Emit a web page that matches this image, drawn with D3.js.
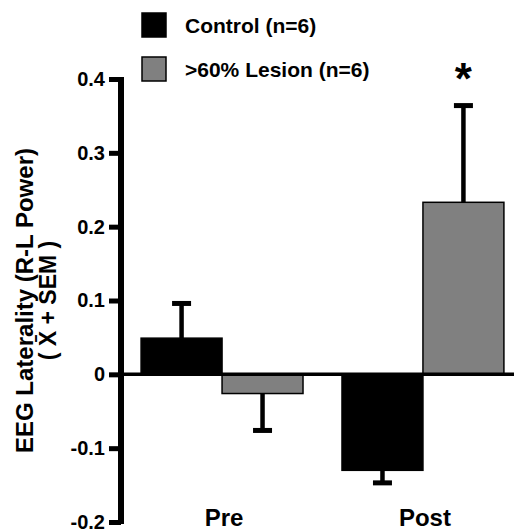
<!DOCTYPE html>
<html>
<head>
<meta charset="utf-8">
<script src="https://cdn.jsdelivr.net/npm/d3@7"></script>
<style>
    body { margin: 0; background: #fff; }
    svg { display: block; font-family: "Liberation Sans", Arial, Helvetica, sans-serif; font-weight: bold; }
</style>
</head>
<body>
<svg id="chart" width="514" height="532"></svg>
<script>
// values
var groups = ["Pre", "Post"];
var seriesNames = ["Control (n=6)", ">60% Lesion (n=6)"];
var controlMean = [0.049, -0.130];
var controlSem = [0.047, 0.017];
var lesionMean = [-0.026, 0.233];
var lesionSem = [0.050, 0.131];
var yTicks = [-0.2, -0.1, 0, 0.1, 0.2, 0.3, 0.4];
var sigGroup = "Post";   // the asterisk sits over the lesion bar here

var fills = ["#000000", "#808080"];

var rows = [];
groups.forEach(function(g, i){
    rows.push({group: g, key: seriesNames[0], mean: controlMean[i], sem: controlSem[i]});
    rows.push({group: g, key: seriesNames[1], mean: lesionMean[i], sem: lesionSem[i]});
});

var svg = d3.select("#chart");
var axisX = 121;

var y = d3.scaleLinear().domain([-0.2, 0.4]).range([522, 79]);

var x0 = d3.scaleBand().domain(groups)
    .range([121, 524])
    .paddingInner(0.194)
    .paddingOuter(0.1);

var x1 = d3.scaleBand().domain(seriesNames)
    .range([0, x0.bandwidth()]);

var color = d3.scaleOrdinal().domain(seriesNames).range(fills);

// bars
svg.append("g").selectAll("rect")
    .data(rows)
    .enter()
    .append("rect")
    .attr("x", d => x0(d.group) + x1(d.key))
    .attr("y", d => y(Math.max(0, d.mean)))
    .attr("width", x1.bandwidth())
    .attr("height", d => Math.abs(y(d.mean) - y(0)))
    .attr("fill", d => color(d.key))
    .attr("stroke", "#000")
    .attr("stroke-width", 1.5);

// error bars, one side only (mean + SEM away from zero)
var errEnd = d => y(d.mean + (d.mean >= 0 ? d.sem : -d.sem));
var err = svg.append("g").selectAll("g")
    .data(rows)
    .enter()
    .append("g")
    .attr("transform", d => "translate(" + (x0(d.group) + x1(d.key) + x1.bandwidth() / 2) + ",0)");

err.append("line")
    .attr("x1", 0).attr("x2", 0)
    .attr("y1", d => y(d.mean))
    .attr("y2", errEnd)
    .attr("stroke", "#000")
    .attr("stroke-width", 4.5);

err.append("line")
    .attr("x1", -9.5).attr("x2", 9.5)
    .attr("y1", errEnd)
    .attr("y2", errEnd)
    .attr("stroke", "#000")
    .attr("stroke-width", 5);

// zero line across the plot
svg.append("line")
    .attr("x1", axisX).attr("x2", 514)
    .attr("y1", y(0)).attr("y2", y(0))
    .attr("stroke", "#000")
    .attr("stroke-width", 3.5);

// y axis
var yAxis = d3.axisLeft(y)
    .tickValues(yTicks)
    .tickSizeInner(12)
    .tickSizeOuter(0)
    .tickPadding(4)
    .tickFormat(d => String(d));

var gy = svg.append("g")
    .attr("transform", "translate(" + axisX + ",0)")
    .call(yAxis);
gy.select(".domain").remove();
gy.append("line")
    .attr("x1", 0).attr("x2", 0)
    .attr("y1", y(0.4) - 2).attr("y2", y(-0.2) + 2)
    .attr("stroke", "#000")
    .attr("stroke-width", 6);
gy.selectAll(".tick line").attr("stroke", "#000").attr("stroke-width", 5);
gy.selectAll(".tick text")
    .attr("fill", "#000")
    .style("font-size", "20px")
    .style("font-weight", "bold")
    .style("font-family", "Liberation Sans, Arial, sans-serif");

// x labels
var xAxis = d3.axisBottom(x0).tickSize(0).tickPadding(0);
var gx = svg.append("g")
    .attr("transform", "translate(2,509)")
    .call(xAxis);
gx.select(".domain").remove();
gx.selectAll(".tick text")
    .attr("fill", "#000")
    .style("font-size", "24px")
    .style("font-weight", "bold")
    .style("font-family", "Liberation Sans, Arial, sans-serif");

// y title, two lines
var midY = (y(-0.2) + y(0.4)) / 2;
svg.append("text")
    .attr("transform", "translate(33," + midY + ") rotate(-90)")
    .attr("text-anchor", "middle")
    .style("font-size", "24px")
    .text("EEG Laterality (R-L Power)");
svg.append("text")
    .attr("transform", "translate(56," + midY + ") rotate(-90)")
    .attr("text-anchor", "middle")
    .style("font-size", "23px")
    .text("( X\u0304 + SEM )");

// significance mark
var sig = rows.filter(d => d.group === sigGroup && d.key === seriesNames[1])[0];
svg.append("text")
    .attr("x", x0(sig.group) + x1(sig.key) + x1.bandwidth() / 2)
    .attr("y", y(sig.mean + sig.sem) - 12)
    .attr("text-anchor", "middle")
    .style("font-size", "44px")
    .text("*");

// legend
var legend = svg.append("g").selectAll("g")
    .data(seriesNames)
    .enter()
    .append("g")
    .attr("transform", (d, i) => "translate(142," + (13 + i * 44) + ")");
legend.append("rect")
    .attr("width", 24).attr("height", 24)
    .attr("fill", d => color(d))
    .attr("stroke", "#000")
    .attr("stroke-width", 1.5);
legend.append("text")
    .attr("x", 43).attr("y", 20)
    .style("font-size", "21px")
    .text(d => d);
</script>
</body>
</html>
